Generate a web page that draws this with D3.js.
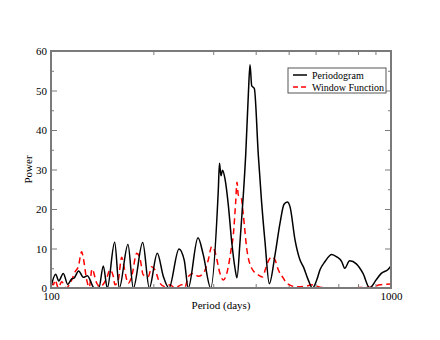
<!DOCTYPE html>
<html>
<head>
<meta charset="utf-8">
<script src="https://cdn.jsdelivr.net/npm/d3@7"></script>
<style>
  body { margin: 0; background: #fff; }
  text { font-family: "Liberation Serif", "Times New Roman", serif; }
</style>
</head>
<body>
<div id="chart"></div>
<script>
// periodogram (black)
var periodP = [100, 103.2, 105.4, 108.7, 112.0, 115.0, 116.9, 120.6, 124.5, 127.9, 134.1, 138.4, 142.5, 146.4,
  153.9, 158.8, 168.4, 174.6, 186.1, 194.6, 205.4, 213.9, 222.4, 237.9, 246.6, 253.3, 270.6, 280.5, 294.9,
  310.5, 313.0, 316.2, 319.5, 324.9, 332.3, 340.0, 347.7, 352.4, 359.7, 367.8, 373.8, 380.5, 384.9, 389.3,
  396.3, 407.1, 416.1, 426.0, 438.6, 455.9, 471.6, 484.6, 495.5, 504.6, 522.0, 540.0, 552.2, 571.2, 587.7,
  604.6, 618.3, 639.6, 669.3, 692.3, 716.1, 730.8, 756.0, 790.6, 827.2, 865.6, 875.0, 903.3, 936.4, 980.0, 1000];
var powerP = [0.3, 3.5, 1.8, 3.7, 0.9, 2.3, 2.5, 4.3, 2.7, 3.1, 0, 0.1, 5.6, 0,
  11.6, 0, 11, 0, 11.5, 0, 8.8, 3, 0, 9.9, 7, 0, 12.7, 8.4, 0,
  24.8, 31.6, 28.4, 29.8, 27.6, 21, 11.7, 5, 2.6, 11.7, 23.5, 33.7, 48.9, 56.5, 51.2,
  50.5, 33.7, 22, 11.7, 1.1, 8.4, 16.4, 21.2, 21.8, 20.6, 12.2, 7.1, 5.4, 2, 0,
  2, 4.6, 6.7, 8.5, 7.9, 6.7, 5, 6.9, 6.1, 3.7, 0, 0.3, 2, 3.7, 4.7, 5.6];

// window function (red dashed)
var periodW = [100, 101.6, 102.8, 105.1, 107.5, 110.7, 115.0, 117.7, 120.3, 123.1, 124.5, 127.4, 129.6, 132.0,
  136.3, 139.3, 145.8, 149.1, 152.5, 154.2, 157.7, 161.4, 163.9, 168.8, 172.7, 178.7, 182.7, 186.8, 193.3,
  197.8, 202.2, 209.2, 216.4, 223.9, 231.6, 242.3, 247.8, 253.3, 262.1, 271.1, 280.5, 290.1, 296.9, 303.6,
  314.1, 321.2, 332.3, 338.4, 343.7, 349.3, 352.4, 355.6, 362.1, 367.8, 376.4, 389.3, 407.1, 418.9, 428.1,
  435.7, 445.8, 455.9, 466.2, 482.3, 493.5, 528.0, 565.0, 584.5, 618.3, 661.6, 732.3, 810.7, 887.0, 928.3, 1000];
var powerW = [1.2, 0.8, 2, 0, 1.6, 0, 2, 4.1, 5.4, 9.2, 7.5, 2, 0.2, 4.8,
  1.2, 0.3, 2.5, 4.6, 2.9, 0.8, 2, 7.8, 5.4, 1.2, 2.9, 8.8, 7.5, 3.3, 2.9,
  5.4, 4.6, 1.2, 0.3, 0.8, 0, 0.8, 0.2, 2.9, 3.7, 3, 3.7, 7.1, 10.5, 9.2,
  3.7, 2, 5.4, 9.6, 13.4, 21.8, 26.8, 23.5, 23.1, 18.5, 10, 5, 3.3, 2.8, 5,
  6.8, 7.9, 7.1, 4.6, 2.5, 1.2, 0.3, 0.5, 0.8, 0.2, 0, 0, 0.1, 0.3, 0.8, 1.0];

var xMajor = [100, 1000];
var xMinor = [200, 300, 400, 500, 600, 700, 800, 900];
var yMajor = [0, 10, 20, 30, 40, 50, 60];
var yMinor = [5, 15, 25, 35, 45, 55];
var seriesNames = ["Periodogram", "Window Function"];

var W = 440, H = 340;
var margin = {top: 51, right: 49, bottom: 52, left: 51},
  width = W - margin.left - margin.right,
  height = H - margin.top - margin.bottom;

var svg = d3.select("#chart").append("svg")
  .attr("width", W).attr("height", H);
var g = svg.append("g").attr("transform", "translate(" + margin.left + "," + margin.top + ")");

var x = d3.scaleLog().domain([100, 1000]).range([0, width]);
var y = d3.scaleLinear().domain([0, 60]).range([height, 0]);

var axisColor = "#7a7a7a";

function styleAxis(sel) {
  sel.select(".domain").remove();
  sel.selectAll(".tick line").attr("stroke", axisColor).attr("stroke-width", 1);
  sel.selectAll(".tick text").attr("fill", "#000").style("font-size", "11px")
    .style("font-family", "'Liberation Serif', serif");
}

// x axes
g.append("g").attr("transform", "translate(0," + height + ")")
  .call(d3.axisBottom(x).tickValues(xMajor).tickSize(-6).tickPadding(4).tickFormat(d3.format("d")))
  .call(styleAxis);
g.append("g").attr("transform", "translate(0," + height + ")")
  .call(d3.axisBottom(x).tickValues(xMinor).tickSize(-4).tickFormat(""))
  .call(styleAxis);
g.append("g")
  .call(d3.axisTop(x).tickValues(xMinor).tickSize(-4).tickFormat(""))
  .call(styleAxis);

// y axes
g.append("g")
  .call(d3.axisLeft(y).tickValues(yMajor).tickSize(-6).tickPadding(4))
  .call(styleAxis);
g.append("g")
  .call(d3.axisLeft(y).tickValues(yMinor).tickSize(-3).tickFormat(""))
  .call(styleAxis);
g.append("g").attr("transform", "translate(" + width + ",0)")
  .call(d3.axisRight(y).tickValues(yMajor).tickSize(-6).tickFormat(""))
  .call(styleAxis);
g.append("g").attr("transform", "translate(" + width + ",0)")
  .call(d3.axisRight(y).tickValues(yMinor).tickSize(-3).tickFormat(""))
  .call(styleAxis);

// lines
var line = d3.line()
  .x(function(d) { return x(d[0]) })
  .y(function(d) { return y(d[1]) })
  .curve(d3.curveMonotoneX);

g.append("path")
  .datum(d3.zip(periodW, powerW))
  .attr("fill", "none")
  .attr("stroke", "#ff0000")
  .attr("stroke-width", 1.5)
  .attr("stroke-dasharray", "6,4")
  .attr("d", line);

g.append("path")
  .datum(d3.zip(periodP, powerP))
  .attr("fill", "none")
  .attr("stroke", "#000")
  .attr("stroke-width", 1.5)
  .attr("d", line);

// frame
g.append("rect")
  .attr("width", width).attr("height", height)
  .attr("fill", "none")
  .attr("stroke", axisColor)
  .attr("stroke-width", 2);

// axis titles
svg.append("text")
  .attr("x", margin.left + width / 2)
  .attr("y", 309)
  .attr("text-anchor", "middle")
  .style("font-size", "11px")
  .text("Period (days)");

svg.append("text")
  .attr("transform", "translate(32," + (margin.top + height / 2) + ") rotate(-90)")
  .attr("text-anchor", "middle")
  .style("font-size", "11px")
  .text("Power");

// legend
var legend = svg.append("g").attr("transform", "translate(288,68)");
legend.append("rect")
  .attr("width", 98).attr("height", 25)
  .attr("fill", "#fff")
  .attr("stroke", "#555")
  .attr("stroke-width", 1);

var legendStyles = [{stroke: "#000", dash: null}, {stroke: "#ff0000", dash: "5,3"}];
seriesNames.forEach(function(name, i) {
  var ly = 7 + i * 12;
  legend.append("line")
    .attr("x1", 5).attr("x2", 19)
    .attr("y1", ly).attr("y2", ly)
    .attr("stroke", legendStyles[i].stroke)
    .attr("stroke-width", 1.5)
    .attr("stroke-dasharray", legendStyles[i].dash);
  legend.append("text")
    .attr("x", 24).attr("y", ly + 3.5)
    .style("font-size", "10px")
    .text(name);
});
</script>
</body>
</html>
